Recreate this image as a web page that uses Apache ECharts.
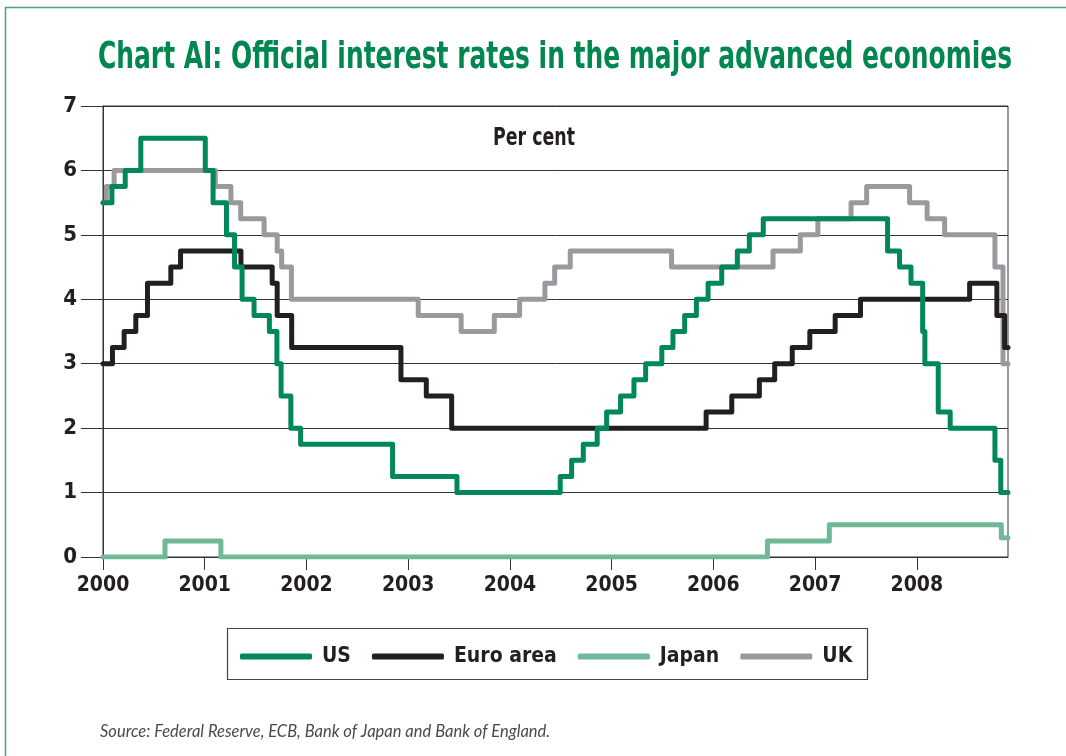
<!DOCTYPE html>
<html>
<head>
<meta charset="utf-8">
<script src="https://cdn.jsdelivr.net/npm/echarts@6/dist/echarts.min.js"></script>
<style>html,body{margin:0;padding:0;background:#fff}#c{width:1066px;height:756px}</style>
</head>
<body>
<div id="c"></div>
<script>
// ---- data (change dates and rates, per cent) ----
const usDates = ['2000-01-01','2000-02-02','2000-03-21','2000-05-16','2001-01-03','2001-01-31','2001-03-20','2001-04-18','2001-05-15','2001-06-27','2001-08-21','2001-09-17','2001-10-02','2001-11-06','2001-12-11','2002-11-06','2003-06-25','2004-06-30','2004-08-10','2004-09-21','2004-11-10','2004-12-14','2005-02-02','2005-03-22','2005-05-03','2005-06-30','2005-08-09','2005-09-20','2005-11-01','2005-12-13','2006-01-31','2006-03-28','2006-05-10','2006-06-29','2007-09-18','2007-10-31','2007-12-11','2008-01-22','2008-01-30','2008-03-18','2008-04-30','2008-10-08','2008-10-29'];
const usRates = [5.5,5.75,6.0,6.5,6.0,5.5,5.0,4.5,4.0,3.75,3.5,3.0,2.5,2.0,1.75,1.25,1.0,1.25,1.5,1.75,2.0,2.25,2.5,2.75,3.0,3.25,3.5,3.75,4.0,4.25,4.5,4.75,5.0,5.25,4.75,4.5,4.25,3.5,3.0,2.25,2.0,1.5,1.0];

const euroDates = ['2000-01-01','2000-02-04','2000-03-17','2000-04-28','2000-06-09','2000-09-01','2000-10-06','2001-05-11','2001-08-31','2001-09-18','2001-11-09','2002-12-06','2003-03-07','2003-06-06','2005-12-06','2006-03-08','2006-06-15','2006-08-09','2006-10-11','2006-12-13','2007-03-14','2007-06-13','2008-07-09','2008-10-15','2008-11-12'];
const euroRates = [3.0,3.25,3.5,3.75,4.25,4.5,4.75,4.5,4.25,3.75,3.25,2.75,2.5,2.0,2.25,2.5,2.75,3.0,3.25,3.5,3.75,4.0,4.25,3.75,3.25];

const japanDates = ['2000-01-01','2000-08-11','2001-02-28','2006-07-14','2007-02-21','2008-10-31'];
const japanRates = [0,0.25,0,0.25,0.5,0.3];

const ukDates = ['2000-01-01','2000-01-13','2000-02-10','2001-02-08','2001-04-05','2001-05-10','2001-08-02','2001-09-18','2001-10-04','2001-11-08','2003-02-06','2003-07-10','2003-11-06','2004-02-05','2004-05-06','2004-06-10','2004-08-05','2005-08-04','2006-08-03','2006-11-09','2007-01-11','2007-05-10','2007-07-05','2007-12-06','2008-02-07','2008-04-10','2008-10-08','2008-11-06'];
const ukRates = [5.5,5.75,6.0,5.75,5.5,5.25,5.0,4.75,4.5,4.0,3.75,3.5,3.75,4.0,4.25,4.5,4.75,4.5,4.75,5.0,5.25,5.5,5.75,5.5,5.25,5.0,4.5,3.0];

const seriesNames = ['US','Euro area','Japan','UK'];
const yearTicks = [2000,2001,2002,2003,2004,2005,2006,2007,2008];
const startDate = '2000-01-01';
const endDate = '2008-11-24';
const titleText = 'Chart AI: Official interest rates in the major advanced economies';
const unitText = 'Per cent';
const sourceText = 'Source: Federal Reserve, ECB, Bank of Japan and Bank of England.';

// ---- helpers ----
function toYear(s){
  const [y,m,d] = s.split('-').map(Number);
  const a = Date.UTC(y,0,1), b = Date.UTC(y+1,0,1);
  return y + (Date.UTC(y,m-1,d) - a) / (b - a);
}
function build(dates, rates){
  const pts = dates.map((d,i)=>[toYear(d), rates[i]]);
  pts.push([toYear(endDate), rates[rates.length-1]]);
  return pts;
}
const COND = '"DejaVu Sans Condensed","Liberation Sans",sans-serif';
const mctx = document.createElement('canvas').getContext('2d');
function fitScale(text, font, target){
  mctx.font = font;
  return target / mctx.measureText(text).width;
}

const colors = {US:'#00875a','Euro area':'#231f20',Japan:'#6fb898',UK:'#9a9a9e'};
const seriesData = {US:build(usDates,usRates),'Euro area':build(euroDates,euroRates),Japan:build(japanDates,japanRates),UK:build(ukDates,ukRates)};
const zOrder = {US:5,'Euro area':4,Japan:3,UK:2};

const titleFont = 'bold 38px "DejaVu Sans Condensed"';
const titleScale = fitScale(titleText, titleFont, 914);
const unitFont = 'bold 24px "DejaVu Sans Condensed"';
const unitScale = fitScale(unitText, unitFont, 82);

const chart = echarts.init(document.getElementById('c'), null, {renderer:'canvas'});
chart.setOption({
  animation:false,
  backgroundColor:'#fff',
  graphic:[
    {type:'rect', shape:{x:5.5,y:7.5,width:1100,height:800}, style:{fill:null, stroke:'#47a57a', lineWidth:1.5}, silent:true},
    {type:'text', x:555, y:58, scaleX:titleScale, silent:true,
      style:{text:titleText, font:titleFont, fill:'#00874f', align:'center', verticalAlign:'middle'}},
    {type:'rect', shape:{x:227.5,y:628.5,width:640,height:51}, style:{fill:null, stroke:'#444', lineWidth:1.2}, silent:true},
    {type:'text', x:534, y:139, scaleX:unitScale, silent:true,
      style:{text:unitText, font:unitFont, fill:'#231f20', align:'center', verticalAlign:'middle'}},
    {type:'text', x:100, y:732, silent:true,
      style:{text:sourceText, fontFamily:'Lato, "Open Sans", sans-serif', fontStyle:'italic', fontSize:16.5, fill:'#4a4a4a', verticalAlign:'middle'}}
  ],
  legend:{
    data:seriesNames,
    left:240, top:646, padding:0,
    icon:'roundRect', itemWidth:72, itemHeight:6, itemGap:21,
    textStyle:{fontFamily:COND, fontWeight:'bold', fontSize:21, color:'#231f20', padding:[0,0,0,5]}
  },
  grid:{left:103, right:58, top:106, bottom:199, show:true, borderColor:'#333', borderWidth:1, containLabel:false},
  xAxis:{
    type:'value', min:toYear(startDate), max:toYear(endDate),
    axisLine:{show:true, lineStyle:{color:'#333', width:1}},
    axisTick:{show:true, length:13, inside:false, customValues:yearTicks, lineStyle:{color:'#333', width:1}},
    axisLabel:{customValues:yearTicks, margin:18, formatter:v=>String(v), fontFamily:COND, fontWeight:'bold', fontSize:21, color:'#231f20'},
    splitLine:{show:false}
  },
  yAxis:{
    type:'value', min:0, max:7, interval:1,
    axisLine:{show:true, lineStyle:{color:'#333', width:1}},
    axisTick:{show:true, length:22, lineStyle:{color:'#333', width:1}},
    axisLabel:{margin:26, fontFamily:COND, fontWeight:'bold', fontSize:22, color:'#231f20', formatter:v=>String(v)},
    splitLine:{show:true, lineStyle:{color:'#333', width:1}}
  },
  series:seriesNames.map(n=>({
    name:n, type:'line', step:'end', showSymbol:false, symbol:'none',
    z:zOrder[n], data:seriesData[n], color:colors[n],
    lineStyle:{color:colors[n], width:5, cap:'round', join:'round'},
    itemStyle:{color:colors[n]}
  }))
});
</script>
</body>
</html>
